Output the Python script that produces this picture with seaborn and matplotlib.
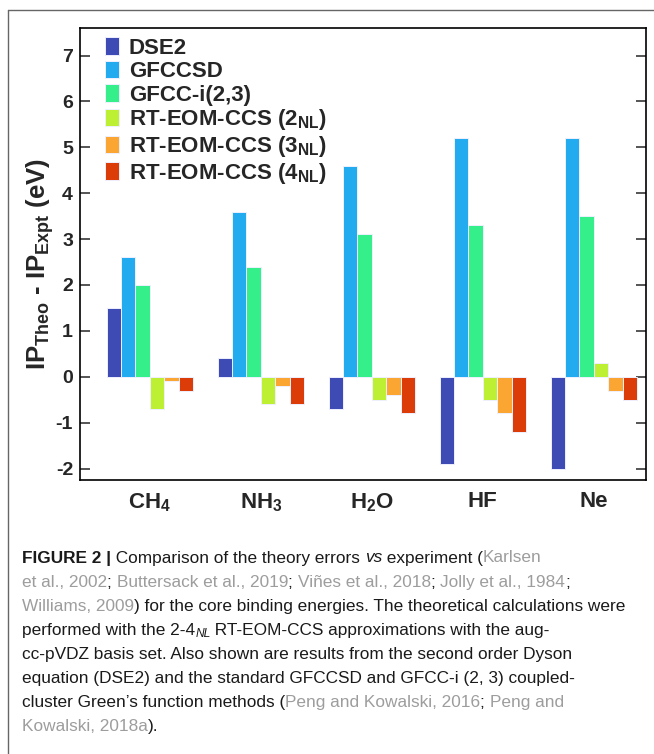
import matplotlib
matplotlib.use("Agg")
import matplotlib.pyplot as plt
import seaborn as sns
import pandas as pd
from matplotlib.lines import Line2D
from matplotlib import font_manager

# ---------------- data ----------------
molecules = ["CH$_4$", "NH$_3$", "H$_2$O", "HF", "Ne"]
methods = ["DSE2", "GFCCSD", "GFCC-i(2,3)",
           "RT-EOM-CCS ($2_{NL}$)", "RT-EOM-CCS ($3_{NL}$)", "RT-EOM-CCS ($4_{NL}$)"]
dse2 = [1.5, 0.4, -0.7, -1.9, -2.0]
gfccsd = [2.6, 3.6, 4.6, 5.2, 5.2]
gfcci = [2.0, 2.4, 3.1, 3.3, 3.5]
rt2 = [-0.7, -0.6, -0.5, -0.5, 0.3]
rt3 = [-0.1, -0.2, -0.4, -0.8, -0.3]
rt4 = [-0.3, -0.6, -0.8, -1.2, -0.5]
yticks = [-2, -1, 0, 1, 2, 3, 4, 5, 6, 7]
colors = ["#3F4BB5", "#22ABEE", "#35F08A", "#BDF032", "#FBA632", "#DC3C07"]

series = [dse2, gfccsd, gfcci, rt2, rt3, rt4]
rows = []
for m, vals in zip(methods, series):
    for mol, v in zip(molecules, vals):
        rows.append({"molecule": mol, "method": m, "value": v})
df = pd.DataFrame(rows)

# ---------------- style ----------------
sns.set_theme(style="ticks")
plt.rcParams["font.family"] = ["Liberation Sans", "DejaVu Sans"]
plt.rcParams["mathtext.fontset"] = "custom"
plt.rcParams["mathtext.bf"] = "Liberation Sans:bold"
plt.rcParams["mathtext.rm"] = "Liberation Sans:bold"
plt.rcParams["mathtext.it"] = "Liberation Sans:italic:bold"
plt.rcParams["mathtext.default"] = "bf"

W, H = 654, 754
fig = plt.figure(figsize=(W / 100, H / 100), dpi=100)
ax = fig.add_axes([80 / W, 1 - 480 / H, (646 - 80) / W, (480 - 28) / H])

sns.barplot(data=df, x="molecule", y="value", hue="method", hue_order=methods,
            order=molecules, palette=colors, width=0.78, edgecolor="#eef0ff",
            linewidth=0.7, saturation=1, ax=ax)

ax.set_ylim(-2.25, 7.6)
ax.set_xlim(-0.63, 4.47)
ax.set_yticks(yticks)
ax.set_yticklabels([str(t) for t in yticks], fontsize=14, fontweight="bold")
ax.tick_params(axis="y", direction="in", length=7, width=1.1, right=True, pad=5)
ax.tick_params(axis="x", length=0, pad=8)
for lab in ax.get_xticklabels():
    lab.set_fontsize(16)
    lab.set_fontweight("bold")
ax.set_xlabel("")
ax.set_ylabel(r"IP$_{Theo}$ - IP$_{Expt}$ (eV)", fontsize=18.5, fontweight="bold")
ax.yaxis.set_label_coords(-0.043, 0.478)
for s in ax.spines.values():
    s.set_linewidth(1.2)
    s.set_color("black")

handles, labels = ax.get_legend_handles_labels()
ax.legend(handles, labels, loc="upper left", bbox_to_anchor=(0.025, 1.004), frameon=False,
          prop={"weight": "bold", "size": 16}, handlelength=0.64, handleheight=0.85,
          handletextpad=0.42, labelspacing=0.08, borderaxespad=0.1)

# figure frame lines
fig.add_artist(Line2D([8 / W, 1], [1 - 10 / H, 1 - 10 / H], color="#666666", lw=1))
fig.add_artist(Line2D([8 / W, 8 / W], [0, 1 - 10 / H], color="#666666", lw=1))

# ---------------- caption ----------------
BLACK = "#1a1a1a"
GRAY = "#9d9d9d"
cap_lines = [
    [("FIGURE 2 |", BLACK, "bold", "normal"), (" Comparison of the theory errors ", BLACK, "normal", "normal"),
     ("vs", BLACK, "normal", "italic"), (" experiment (", BLACK, "normal", "normal"), ("Karlsen", GRAY, "normal", "normal")],
    [("et al., 2002", GRAY, "normal", "normal"), ("; ", BLACK, "normal", "normal"),
     ("Buttersack et al., 2019", GRAY, "normal", "normal"), ("; ", BLACK, "normal", "normal"),
     ("Viñes et al., 2018", GRAY, "normal", "normal"), ("; ", BLACK, "normal", "normal"),
     ("Jolly et al., 1984", GRAY, "normal", "normal"), (";", BLACK, "normal", "normal")],
    [("Williams, 2009", GRAY, "normal", "normal"),
     (") for the core binding energies. The theoretical calculations were", BLACK, "normal", "normal")],
    [("performed with the 2-4", BLACK, "normal", "normal"), ("NL", BLACK, "normal", "italic-sub"),
     (" RT-EOM-CCS approximations with the aug-", BLACK, "normal", "normal")],
    [("cc-pVDZ basis set. Also shown are results from the second order Dyson", BLACK, "normal", "normal")],
    [("equation (DSE2) and the standard GFCCSD and GFCC-i (2, 3) coupled-", BLACK, "normal", "normal")],
    [("cluster Green\u2019s function methods (", BLACK, "normal", "normal"),
     ("Peng and Kowalski, 2016", GRAY, "normal", "normal"), ("; ", BLACK, "normal", "normal"),
     ("Peng and", GRAY, "normal", "normal")],
    [("Kowalski, 2018a", GRAY, "normal", "normal"), (").", BLACK, "normal", "normal")],
]

available = {f.name for f in font_manager.fontManager.ttflist}
if "Liberation Sans Narrow" in available:
    cap_font = ["Liberation Sans Narrow", "DejaVu Sans"]
else:
    cap_font = ["Liberation Sans", "DejaVu Sans"]

renderer = fig.canvas.get_renderer()


def text_width(s, size, weight="normal", style="normal"):
    t = fig.text(0, 0, "|" + s + "|", fontsize=size, fontweight=weight, fontstyle=style,
                 family=cap_font)
    w1 = t.get_window_extent(renderer).width
    t.remove()
    t2 = fig.text(0, 0, "||", fontsize=size, fontweight=weight, fontstyle=style, family=cap_font)
    w2 = t2.get_window_extent(renderer).width
    t2.remove()
    return w1 - w2


# fit font size so that the third line spans the reference width
ref_line = "Williams, 2009) for the core binding energies. The theoretical calculations were"
target = 603.0
w10 = text_width(ref_line, 10)
cap_size = min(10 * target / w10, 12.5)

x0 = 22
y_first = 558
spacing = 24.1
for i, segs in enumerate(cap_lines):
    y = y_first + i * spacing
    x = x0
    for txt, col, wt, st in segs:
        if st == "italic-sub":
            sz = cap_size * 0.7
            fig.text(x / W, 1 - (y + 4) / H, txt, fontsize=sz, color=col, fontstyle="italic",
                     family=cap_font, va="center", ha="left")
            x += text_width(txt, sz, "normal", "italic")
        else:
            fig.text(x / W, 1 - y / H, txt, fontsize=cap_size, color=col, fontweight=wt,
                     fontstyle=st, family=cap_font, va="center", ha="left")
            x += text_width(txt, cap_size, wt, st)

fig.savefig("out.png", dpi=100)
